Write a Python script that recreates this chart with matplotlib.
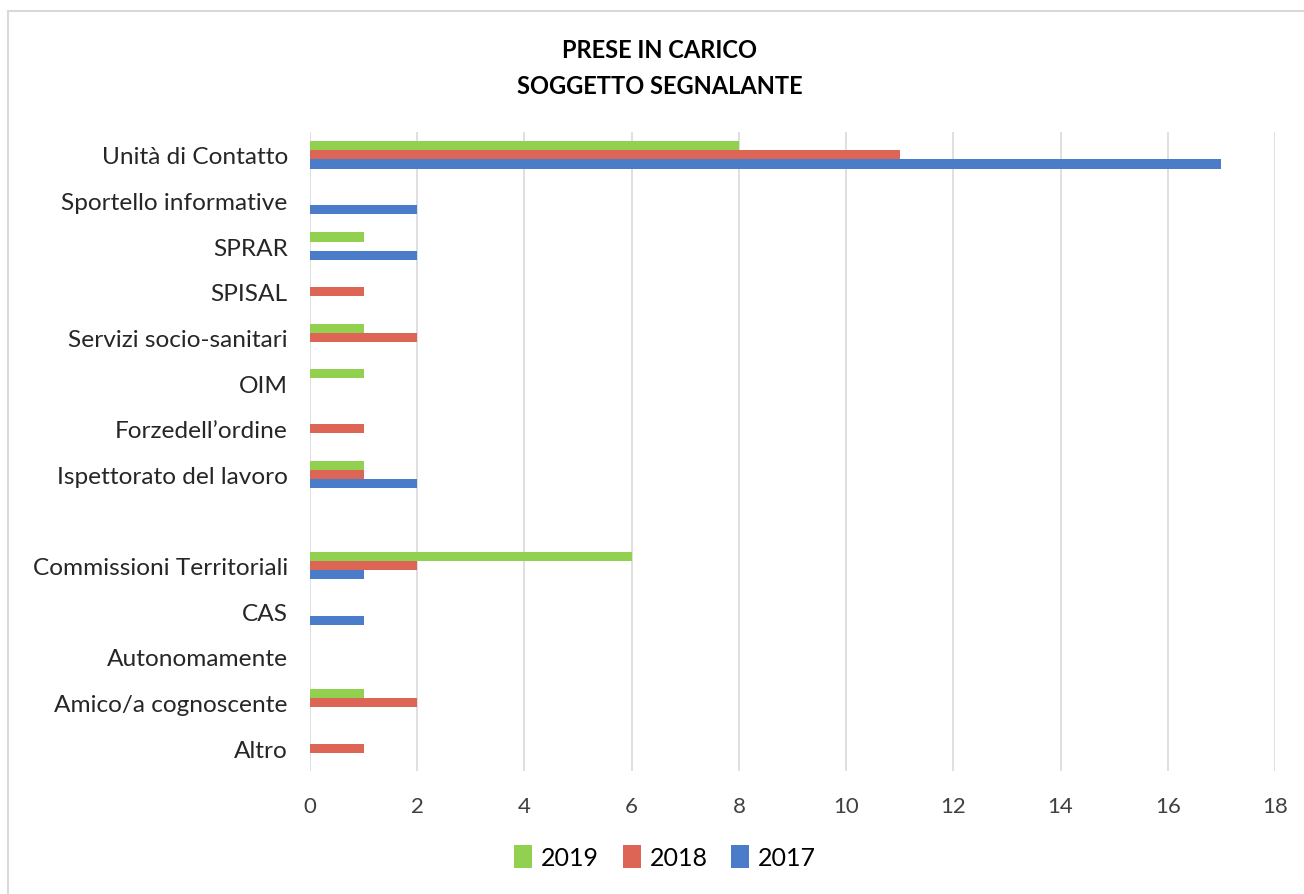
import numpy as np
import matplotlib.pyplot as plt
from matplotlib.patches import Rectangle

plt.rcParams['font.family'] = ['Lato', 'DejaVu Sans']

categories = ['Unità di Contatto', 'Sportello informative', 'SPRAR', 'SPISAL',
              'Servizi socio-sanitari', 'OIM', 'Forzedell\u2019ordine',
              'Ispettorato del lavoro', '', 'Commissioni Territoriali', 'CAS',
              'Autonomamente', 'Amico/a cognoscente', 'Altro']
v2019 = [8, 0, 1, 0, 1, 1, 0, 1, 0, 6, 0, 0, 1, 0]
v2018 = [11, 0, 0, 1, 2, 0, 1, 1, 0, 2, 0, 0, 2, 1]
v2017 = [17, 2, 2, 0, 0, 0, 0, 2, 0, 1, 1, 0, 0, 0]

c2019 = '#92d050'
c2018 = '#dc6555'
c2017 = '#4a7cc9'

fig = plt.figure(figsize=(13.04, 8.95), dpi=100)
ax = fig.add_axes([310/1304, 1-772/895, 965/1304, 639/895])

y = np.arange(len(categories))
h = 0.2
ax.barh(y - h, v2019, height=h, color=c2019, label='2019')
ax.barh(y, v2018, height=h, color=c2018, label='2018')
ax.barh(y + h, v2017, height=h, color=c2017, label='2017')

ax.set_xlim(0, 18)
ax.set_ylim(13.5, -0.5)
ax.set_xticks(np.arange(0, 19, 2))
ax.set_yticks(y)
ax.set_yticklabels(categories, fontsize=17.6, color='#262626')
ax.tick_params(axis='x', labelsize=16, colors='#404040', length=0, pad=18)
ax.tick_params(axis='y', length=0, pad=16)
ax.grid(axis='x', color='#d9d9d9', linewidth=1.2)
ax.set_axisbelow(True)
for s in ax.spines.values():
    s.set_visible(False)

fig.text(0.506, 1-51/895, 'PRESE IN CARICO', ha='center', va='center',
         fontsize=17, fontweight='bold', color='#000000')
fig.text(0.506, 1-86/895, 'SOGGETTO SEGNALANTE', ha='center', va='center',
         fontsize=17, fontweight='bold', color='#000000')

fig.legend(loc='center', bbox_to_anchor=(0.51, 1-858/895), ncol=3, frameon=False,
           fontsize=18, handlelength=0.72, handleheight=1.0, columnspacing=0.95,
           handletextpad=0.35)

fig.patches.append(Rectangle((8/1304, -0.01), 1.0, 1-12/895 + 0.01,
                             transform=fig.transFigure, fill=False,
                             edgecolor='#d9d9d9', linewidth=1.5))

fig.savefig('out.png', dpi=100)
